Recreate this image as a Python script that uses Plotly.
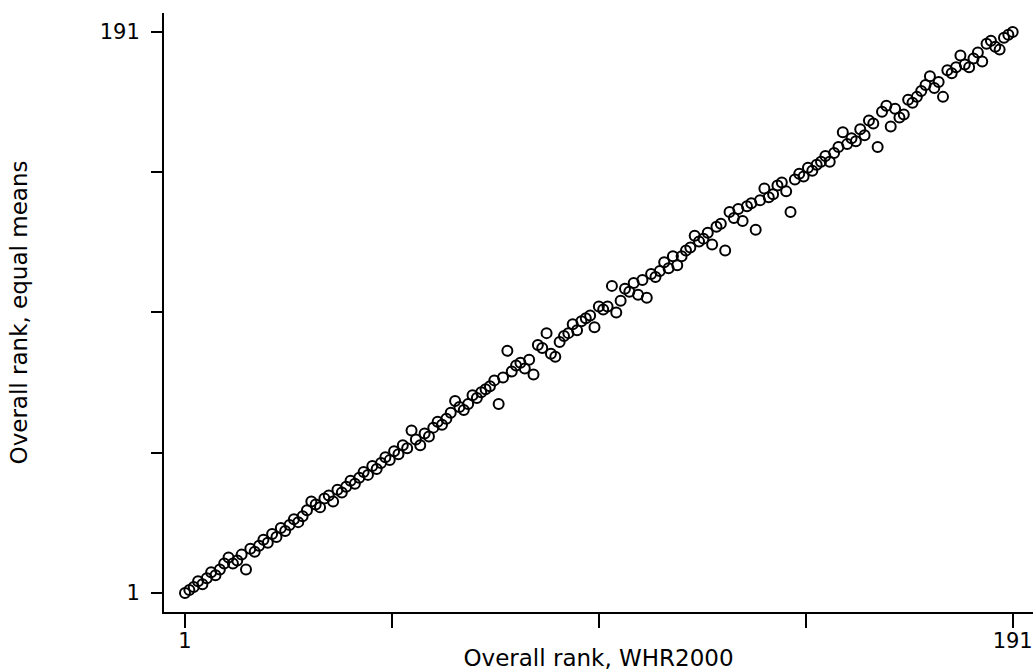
import plotly.graph_objects as go

# Overall rank, WHR2000 (x) vs overall rank with equal means (y)
rank_whr2000 = list(range(1, 192))
rank_equal_means = [
    1, 2, 3, 5, 4, 6, 8, 7, 9, 11,
    13, 11, 12, 14, 9, 16, 15, 17, 19, 18,
    21, 20, 23, 22, 24, 26, 25, 27, 29, 32,
    31, 30, 33, 34, 32, 36, 35, 37, 39, 38,
    40, 42, 41, 44, 43, 45, 47, 46, 49, 48,
    51, 50, 56, 53, 51, 55, 54, 57, 59, 58,
    60, 62, 66, 64, 63, 65, 68, 67, 69, 70,
    71, 73, 65, 74, 83, 76, 78, 79, 77, 80,
    75, 85, 84, 89, 82, 81, 86, 88, 89, 92,
    90, 93, 94, 95, 91, 98, 97, 98, 105, 96,
    100, 104, 103, 106, 102, 107, 101, 109, 108, 110,
    113, 111, 115, 112, 115, 117, 118, 122, 120, 121,
    123, 119, 125, 126, 117, 130, 128, 131, 127, 132,
    133, 124, 134, 138, 135, 136, 139, 140, 137, 130,
    141, 143, 142, 145, 144, 146, 147, 149, 147, 150,
    152, 157, 153, 155, 154, 158, 156, 161, 160, 152,
    164, 166, 159, 165, 162, 163, 168, 167, 169, 171,
    173, 176, 172, 174, 169, 178, 177, 179, 183, 180,
    179, 182, 184, 181, 187, 188, 186, 185, 189, 190,
    191,
]

tick_vals = [1, 48.5, 96, 143.5, 191]
tick_text = ["1", "", "", "", "191"]

font_family = "DejaVu Sans, Liberation Sans, Arial, sans-serif"

fig = go.Figure(
    go.Scatter(
        x=rank_whr2000,
        y=rank_equal_means,
        mode="markers",
        marker=dict(symbol="circle-open", size=10, color="black",
                    line=dict(width=2, color="black")),
        showlegend=False,
    )
)

fig.update_layout(
    width=1033,
    height=671,
    margin=dict(l=164, r=0, t=13, b=59, autoexpand=False),
    paper_bgcolor="white",
    plot_bgcolor="white",
    font=dict(family=font_family, size=22, color="black"),
)

fig.update_xaxes(
    range=[-3.82, 195.66],
    tickmode="array",
    tickvals=tick_vals,
    ticktext=tick_text,
    ticks="outside",
    ticklen=14,
    tickwidth=2,
    tickcolor="black",
    ticklabeloverflow="allow",
    ticklabelstandoff=-5,
    showline=True,
    linewidth=2,
    linecolor="black",
    showgrid=False,
    zeroline=False,
    tickfont=dict(size=21),
    title=dict(text="Overall rank, WHR2000", standoff=8,
               font=dict(size=23)),
)

fig.update_yaxes(
    range=[-5.43, 197.4],
    tickmode="array",
    tickvals=tick_vals,
    ticktext=tick_text,
    ticks="outside",
    ticklen=11,
    tickwidth=2,
    tickcolor="black",
    ticklabelstandoff=7,
    showline=True,
    linewidth=2,
    linecolor="black",
    showgrid=False,
    zeroline=False,
    tickfont=dict(size=21),
    title=dict(text="Overall rank, equal means", standoff=66,
               font=dict(size=23)),
)

fig.write_html("out.html")
